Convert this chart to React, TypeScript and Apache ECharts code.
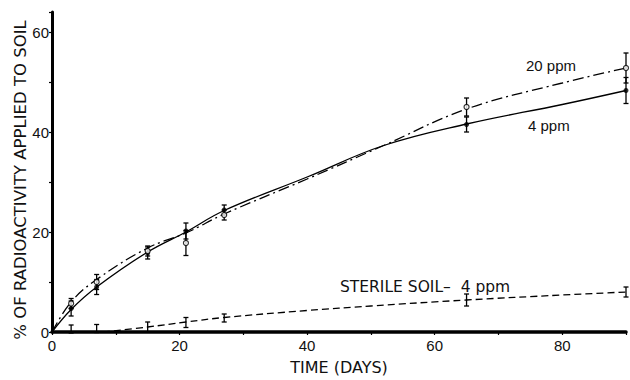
import React, { useEffect, useRef } from "react";
import * as echarts from "echarts";

// Measured points (day, %)
const days = [3, 7, 15, 21, 27, 65, 90];
const ppm4 = [4.7, 9.0, 15.8, 20.2, 24.4, 41.5, 48.3];
const ppm4Err = [1.5, 1.5, 1.2, 1.6, 1.0, 1.5, 2.6];
const ppm20 = [5.7, 10.0, 16.2, 17.8, 23.4, 45.0, 52.8];
const ppm20Err = [1.0, 1.5, 1.0, 2.5, 1.0, 1.8, 3.0];
const sterile = [0.6, 0.7, 1.0, 1.9, 2.8, 6.4, 8.0];
const sterileErr = [0.8, 0.8, 1.0, 1.0, 0.8, 1.2, 1.0];

// Fitted curves (day, %)
const curve4Days = [0, 3, 7, 15, 21, 27, 40, 52, 65, 80, 90];
const curve4Vals = [0, 4.5, 9.0, 16.0, 20.0, 24.3, 31.0, 37.3, 41.6, 45.5, 48.3];
const curve20Days = [0, 3, 7, 15, 21, 27, 40, 52, 65, 80, 90];
const curve20Vals = [0, 6.0, 10.5, 16.8, 19.8, 23.6, 30.6, 37.3, 44.6, 49.8, 52.8];
const curveSterileDays = [8, 15, 21, 27, 40, 50, 65, 80, 90];
const curveSterileVals = [0, 1.0, 2.0, 2.9, 4.3, 5.2, 6.4, 7.4, 8.0];

const xTicks = [0, 20, 40, 60, 80];
const yTicks = [0, 20, 40, 60];

const FONT = "Liberation Sans";
const WIDE = "DejaVu Sans";

function errorSeries(vals: number[], errs: number[]) {
  return {
    type: "custom",
    silent: true,
    z: 5,
    data: days.map((d, i) => [d, vals[i] - errs[i], vals[i] + errs[i]]),
    renderItem: (params: any, api: any) => {
      const lo = api.coord([api.value(0), api.value(1)]);
      const hi = api.coord([api.value(0), api.value(2)]);
      const w = 2.5;
      const style = { stroke: "#000", lineWidth: 1.3 };
      return {
        type: "group",
        children: [
          { type: "line", shape: { x1: lo[0], y1: lo[1], x2: hi[0], y2: hi[1] }, style },
          { type: "line", shape: { x1: lo[0] - w, y1: lo[1], x2: lo[0] + w, y2: lo[1] }, style },
          { type: "line", shape: { x1: hi[0] - w, y1: hi[1], x2: hi[0] + w, y2: hi[1] }, style },
        ],
      };
    },
  };
}

export default function App() {
  const ref = useRef<HTMLDivElement>(null);
  useEffect(() => {
    if (!ref.current) return;
    const chart = echarts.init(ref.current, null, { renderer: "svg" });
    chart.setOption({
      animation: false,
      backgroundColor: "#fff",
      grid: { left: 52, right: 4, top: 12, bottom: 41, containLabel: false },
      xAxis: {
        type: "value",
        min: 0,
        max: 90,
        interval: 10,
        name: "TIME (DAYS)",
        nameLocation: "middle",
        nameGap: 27,
        nameTextStyle: { fontFamily: WIDE, fontSize: 16, color: "#111" },
        axisLine: { lineStyle: { color: "#000", width: 3.5 } },
        axisTick: { length: 3, lineStyle: { color: "#000", width: 1.2 } },
        axisLabel: {
          fontFamily: FONT,
          fontSize: 15,
          color: "#111",
          margin: 6,
          formatter: (v: number) => (xTicks.includes(v) ? String(v) : ""),
        },
        splitLine: { show: false },
      },
      yAxis: {
        type: "value",
        min: 0,
        max: 64,
        interval: 10,
        axisLine: { lineStyle: { color: "#000", width: 3 } },
        axisTick: { length: 3, lineStyle: { color: "#000", width: 1.2 } },
        axisLabel: {
          fontFamily: FONT,
          fontSize: 15,
          color: "#111",
          margin: 3,
          formatter: (v: number) => (yTicks.includes(v) ? String(v) : ""),
        },
        splitLine: { show: false },
      },
      series: [
        {
          type: "line",
          name: "4 ppm fit",
          smooth: 0.4,
          showSymbol: false,
          data: curve4Days.map((d, i) => [d, curve4Vals[i]]),
          lineStyle: { color: "#000", width: 1.3 },
        },
        {
          type: "line",
          name: "20 ppm fit",
          smooth: 0.4,
          showSymbol: false,
          data: curve20Days.map((d, i) => [d, curve20Vals[i]]),
          lineStyle: { color: "#000", width: 1.3, type: [11, 4, 2, 4] },
        },
        {
          type: "line",
          name: "sterile fit",
          smooth: 0.4,
          showSymbol: false,
          data: curveSterileDays.map((d, i) => [d, curveSterileVals[i]]),
          lineStyle: { color: "#000", width: 1.3, type: [7, 4] },
        },
        errorSeries(ppm4, ppm4Err),
        errorSeries(ppm20, ppm20Err),
        errorSeries(sterile, sterileErr),
        {
          type: "scatter",
          name: "4 ppm",
          symbol: "circle",
          symbolSize: 5,
          z: 6,
          data: days.map((d, i) => [d, ppm4[i]]),
          itemStyle: { color: "#000" },
        },
        {
          type: "scatter",
          name: "20 ppm",
          symbol: "circle",
          symbolSize: 5,
          z: 7,
          data: days.map((d, i) => [d, ppm20[i]]),
          itemStyle: { color: "#fff", borderColor: "#000", borderWidth: 1.2 },
        },
      ],
      graphic: [
        {
          type: "text",
          x: 20,
          y: 180,
          rotation: Math.PI / 2,
          style: {
            text: "% OF RADIOACTIVITY APPLIED TO SOIL",
            fontFamily: WIDE,
            fontSize: 16.5,
            fill: "#111",
            align: "center",
            verticalAlign: "middle",
          },
        },
        {
          type: "text",
          left: 526,
          top: 58,
          style: { text: "20 ppm", fontFamily: FONT, fontSize: 15, fill: "#111" },
        },
        {
          type: "text",
          left: 528,
          top: 118,
          style: { text: "4 ppm", fontFamily: FONT, fontSize: 15, fill: "#111" },
        },
        {
          type: "text",
          left: 340,
          top: 279,
          style: { text: "STERILE SOIL–  4 ppm", fontFamily: WIDE, fontSize: 15.5, fill: "#111" },
        },
      ],
    });
    return () => chart.dispose();
  }, []);
  return (
    <div
      ref={ref}
      style={{ position: "fixed", left: 0, top: 0, width: 630, height: 380, background: "#fff" }}
    />
  );
}
